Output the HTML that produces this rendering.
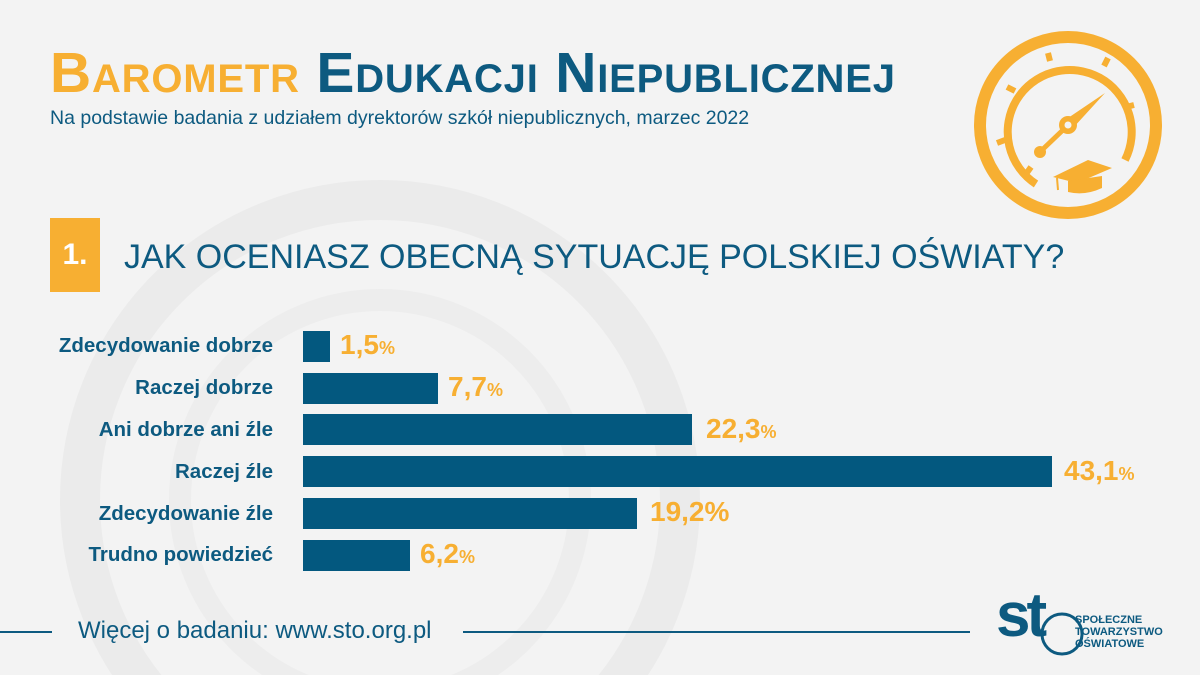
<!DOCTYPE html>
<html><head><meta charset="utf-8"><style>
html,body{margin:0;width:1200px;height:675px;overflow:hidden}
body{background:#f3f3f3;position:relative;font-family:"Liberation Sans",sans-serif}
.a{position:absolute;white-space:nowrap}
.lbl{right:927px;font-weight:bold;font-size:20.5px;color:#0d5a80}
.bar{position:absolute;left:303px;height:31px;background:#03587f}
.v{font-weight:bold;font-size:28px;color:#f7af32}
.v small{font-size:18px}
</style></head><body>
<svg class="a" style="left:0;top:0" width="1200" height="675">
<circle cx="380" cy="500" r="300" fill="none" stroke="#ebebeb" stroke-width="40"/>
<circle cx="380" cy="500" r="200" fill="none" stroke="#ededed" stroke-width="22"/>
<g fill="none" stroke="#f7af32">
<circle cx="1068" cy="125" r="88" stroke-width="12"/>
<path d="M1036,184 A62,62 0 1 1 1125,160" stroke-width="8"/>
</g>
<g stroke="#f7af32" stroke-width="6">
<line x1="1050" y1="61" x2="1048" y2="53"/><line x1="1104" y1="66" x2="1108" y2="58"/>
<line x1="1015" y1="91" x2="1007" y2="87"/><line x1="1126" y1="107" x2="1134" y2="105"/>
<line x1="1005" y1="140" x2="997" y2="143"/><line x1="1026" y1="174" x2="1031" y2="167"/>
</g>
<polygon points="1105,93 1073,128 1068,118" fill="#f7af32"/>
<circle cx="1068" cy="125" r="9" fill="#f7af32"/><circle cx="1068" cy="125" r="3.5" fill="#f3f3f3"/>
<line x1="1064" y1="129" x2="1042" y2="150" stroke="#f7af32" stroke-width="5"/>
<circle cx="1040" cy="152" r="6" fill="#f7af32"/>
<polygon points="1053,177 1088,160 1112,168 1077,183" fill="#f7af32"/>
<path d="M1068,181 L1068,192 Q1085,196 1102,188 L1102,176 Z" fill="#f7af32"/>
<line x1="1057" y1="178" x2="1058" y2="190" stroke="#f7af32" stroke-width="2"/>
<line x1="0" y1="632" x2="52" y2="632" stroke="#0d5a80" stroke-width="2"/>
<line x1="463" y1="632" x2="970" y2="632" stroke="#0d5a80" stroke-width="2"/>
<circle cx="1062" cy="634" r="20" fill="none" stroke="#0d5a80" stroke-width="3"/>
</svg>
<div class="a" style="left:50px;top:41px;font-size:57px;font-weight:bold;font-variant:small-caps;letter-spacing:0.8px;line-height:64px"><span style="color:#f7af32">Barometr</span> <span style="color:#0d5a80">Edukacji Niepublicznej</span></div>
<div class="a" style="left:50px;top:107px;font-size:19.5px;color:#0d5a80">Na podstawie badania z udziałem dyrektorów szkół niepublicznych, marzec 2022</div>
<div class="a" style="left:50px;top:218px;width:50px;height:74px;background:#f7af32;color:#fff;font-size:30px;font-weight:bold;line-height:74px;text-align:center">1.</div>
<div class="a" style="left:124px;top:237px;font-size:34px;color:#0d5a80;line-height:40px">JAK OCENIASZ OBECNĄ SYTUACJĘ POLSKIEJ OŚWIATY?</div>
<div class="a lbl" style="top:334px">Zdecydowanie dobrze</div><div class="bar" style="top:331px;width:27px"></div><div class="a v" style="left:340px;top:329px">1,5<small>%</small></div>
<div class="a lbl" style="top:376px">Raczej dobrze</div><div class="bar" style="top:373px;width:135px"></div><div class="a v" style="left:448px;top:371px">7,7<small>%</small></div>
<div class="a lbl" style="top:418px">Ani dobrze ani źle</div><div class="bar" style="top:414px;width:389px"></div><div class="a v" style="left:706px;top:413px">22,3<small>%</small></div>
<div class="a lbl" style="top:460px">Raczej źle</div><div class="bar" style="top:456px;width:749px"></div><div class="a v" style="left:1064px;top:455px">43,1<small>%</small></div>
<div class="a lbl" style="top:502px">Zdecydowanie źle</div><div class="bar" style="top:498px;width:334px"></div><div class="a v" style="left:650px;top:496px">19,2%</div>
<div class="a lbl" style="top:543px">Trudno powiedzieć</div><div class="bar" style="top:540px;width:107px"></div><div class="a v" style="left:420px;top:538px">6,2<small>%</small></div>
<div class="a" style="left:78px;top:617px;font-size:24px;color:#0d5a80">Więcej o badaniu: www.sto.org.pl</div>
<div class="a" style="left:996px;top:585px;font-size:62px;font-weight:bold;color:#0d5a80;letter-spacing:-4px;line-height:62px">st</div>
<div class="a" style="left:1075px;top:614px;font-size:11px;font-weight:bold;color:#0d5a80;line-height:12px">SPOŁECZNE<br>TOWARZYSTWO<br>OŚWIATOWE</div>
</body></html>
